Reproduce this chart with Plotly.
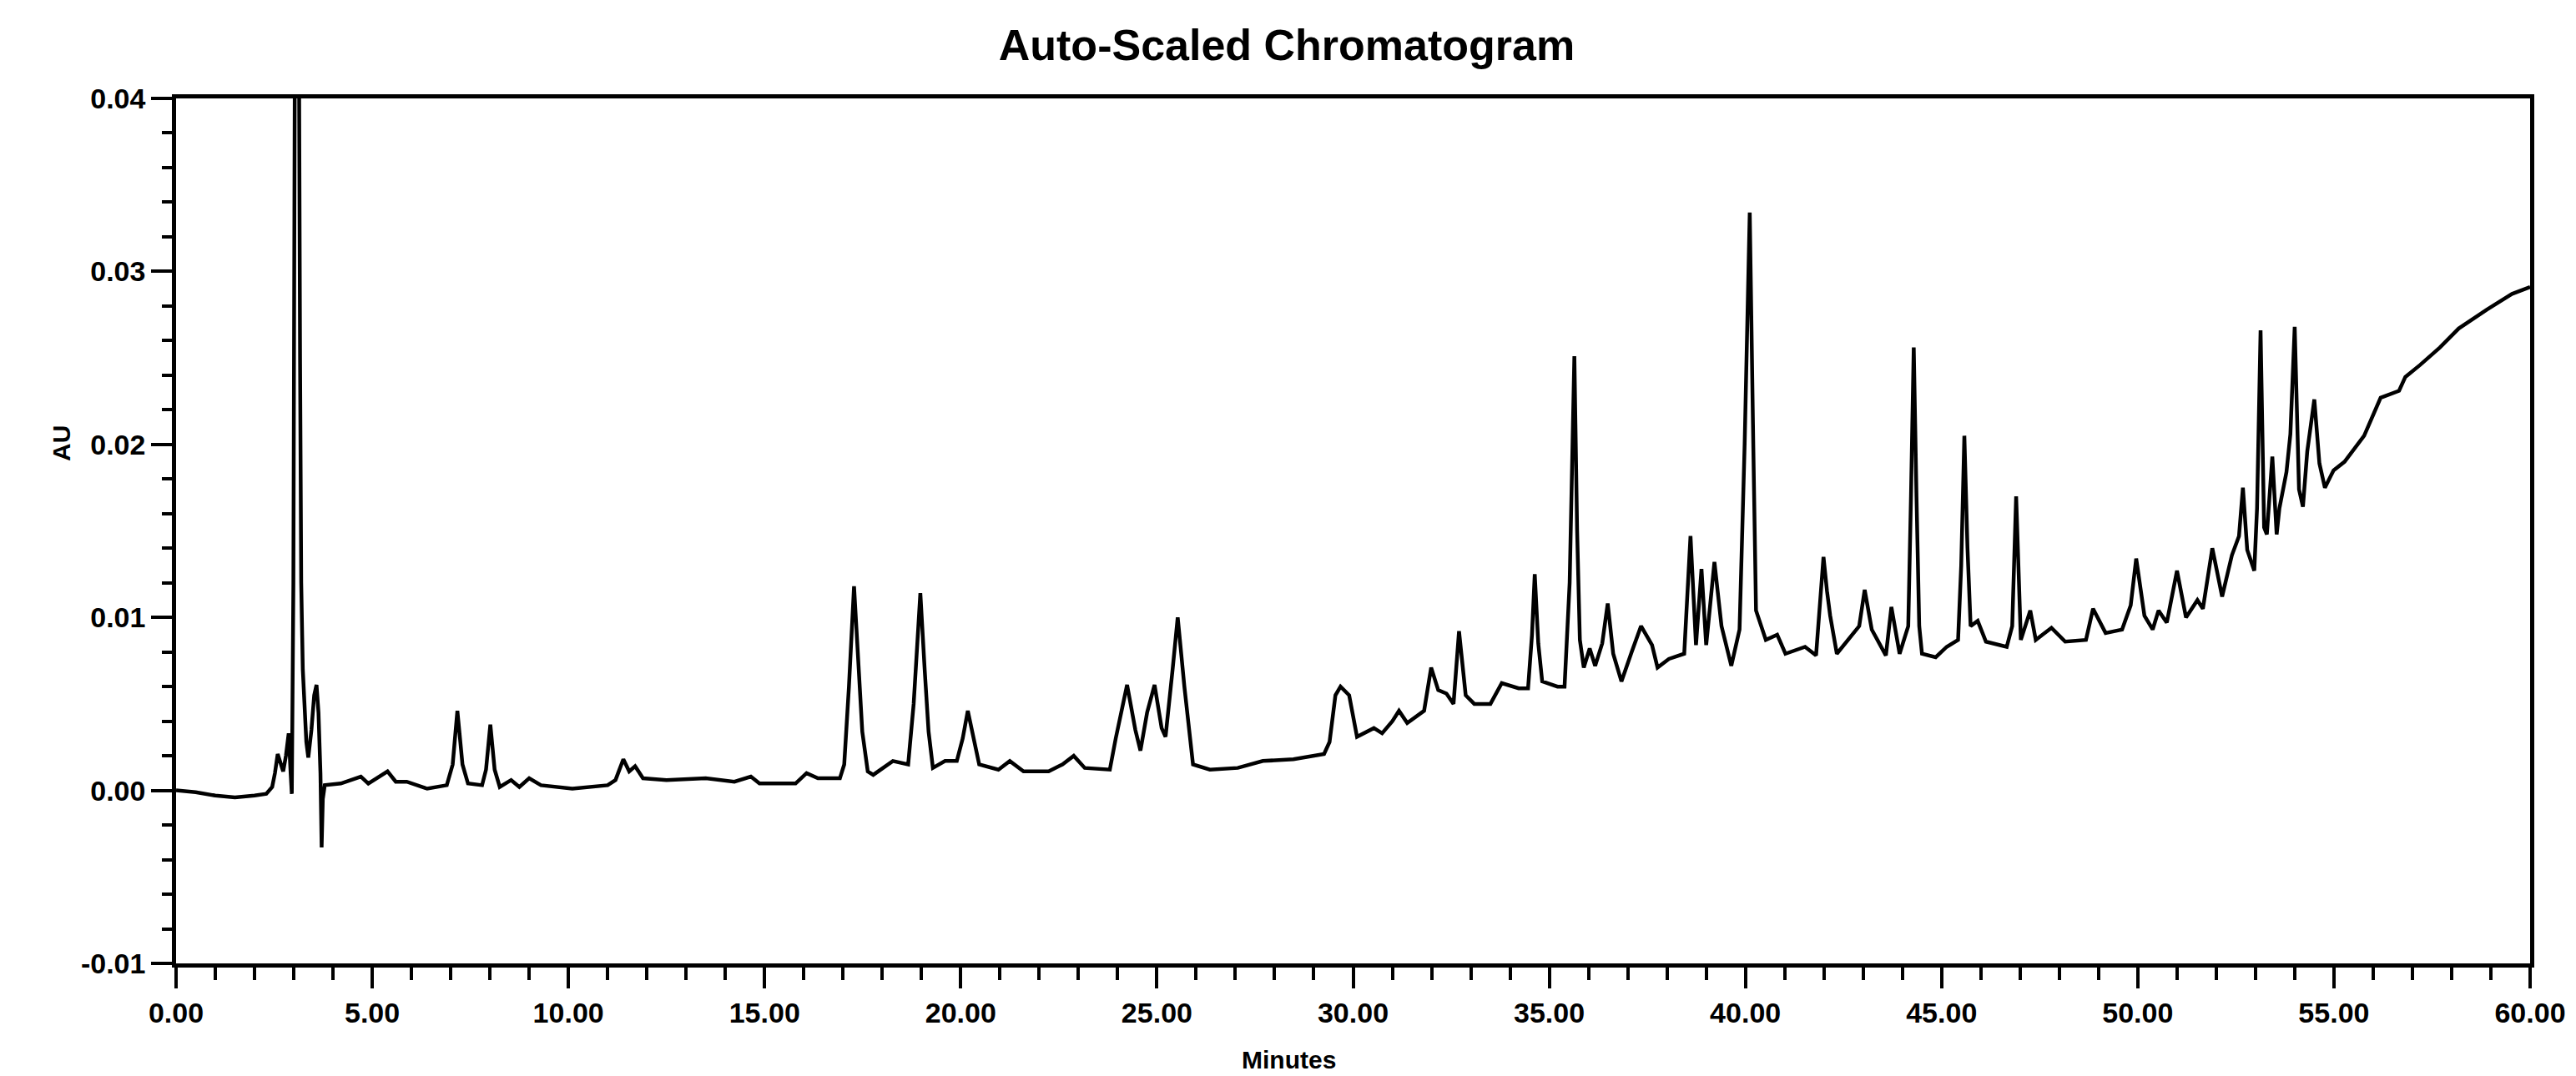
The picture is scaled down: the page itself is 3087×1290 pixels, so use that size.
import plotly.graph_objects as go

# Retention time (minutes) and absorbance (AU)
minutes = [
    0.0, 0.5, 1.0, 1.5, 2.0, 2.3, 2.45, 2.52, 2.59, 2.66, 2.73, 2.80, 2.87, 2.92, 2.95,
    2.99, 3.03, 3.08, 3.13, 3.16, 3.19, 3.23, 3.27, 3.32, 3.37, 3.45, 3.52, 3.58, 3.63,
    3.68, 3.71, 3.74, 3.79, 4.2, 4.71, 4.9, 5.39, 5.6, 5.88, 6.4, 6.9, 7.05, 7.17, 7.30,
    7.44, 7.8, 7.9, 8.01, 8.12, 8.25, 8.54, 8.75, 9.0, 9.3, 10.1, 11.0, 11.2, 11.4, 11.55,
    11.7, 11.9, 12.5, 13.5, 14.23, 14.65, 14.87, 15.79, 16.07, 16.36, 16.92, 17.03, 17.15,
    17.28, 17.40, 17.49, 17.63, 17.77, 18.27, 18.66, 18.80, 18.97, 19.08, 19.18, 19.29,
    19.6, 19.9, 20.05, 20.18, 20.32, 20.47, 20.96, 21.25, 21.6, 22.24, 22.59, 22.88, 23.16,
    23.8, 23.95, 24.24, 24.45, 24.58, 24.75, 24.94, 25.12, 25.22, 25.40, 25.53, 25.70,
    25.92, 26.35, 27.06, 27.7, 28.48, 29.26, 29.4, 29.55, 29.68, 29.9, 30.1, 30.53, 30.74,
    31.0, 31.17, 31.38, 31.81, 31.99, 32.17, 32.38, 32.56, 32.70, 32.87, 33.09, 33.5,
    33.79, 34.22, 34.46, 34.56, 34.63, 34.72, 34.82, 35.21, 35.39, 35.52, 35.64, 35.71,
    35.78, 35.88, 36.03, 36.17, 36.35, 36.49, 36.63, 36.84, 37.1, 37.34, 37.62, 37.76,
    38.05, 38.44, 38.6, 38.74, 38.88, 39.0, 39.21, 39.39, 39.64, 39.85, 39.98, 40.11,
    40.2, 40.27, 40.52, 40.81, 41.02, 41.52, 41.8, 41.92, 41.99, 42.08, 42.16, 42.33,
    42.62, 42.9, 43.04, 43.22, 43.58, 43.72, 43.93, 44.15, 44.22, 44.29, 44.36, 44.43,
    44.5, 44.85, 45.13, 45.42, 45.50, 45.58, 45.66, 45.74, 45.92, 46.13, 46.66, 46.8,
    46.9, 47.02, 47.26, 47.4, 47.8, 48.15, 48.68, 48.86, 49.18, 49.6, 49.82, 49.96, 50.17,
    50.38, 50.53, 50.74, 51.0, 51.23, 51.52, 51.66, 51.9, 52.15, 52.4, 52.58, 52.68,
    52.79, 52.97, 53.04, 53.13, 53.22, 53.29, 53.43, 53.54, 53.61, 53.79, 53.89, 54.0,
    54.11, 54.21, 54.32, 54.5, 54.63, 54.77, 54.99, 55.27, 55.77, 56.19, 56.66, 56.82,
    57.2, 57.7, 58.18, 58.9, 59.54, 60.0,
]
absorbance = [
    0.0000, -0.0001, -0.0003, -0.0004, -0.0003, -0.0002, 0.0002, 0.0010, 0.0021, 0.0016,
    0.0011, 0.0020, 0.0033, 0.0010, -0.0002, 0.0120, 0.0450, 0.0600, 0.0450, 0.0250,
    0.0120, 0.0070, 0.0045, 0.0028, 0.0019, 0.0035, 0.0055, 0.0061, 0.0045, 0.0010,
    -0.0033, -0.0005, 0.0003, 0.0004, 0.0008, 0.0004, 0.0011, 0.0005, 0.0005, 0.0001,
    0.0003, 0.0015, 0.0046, 0.0015, 0.0004, 0.0003, 0.0012, 0.0038, 0.0012, 0.0002,
    0.0006, 0.0002, 0.0007, 0.0003, 0.0001, 0.0003, 0.0006, 0.0018, 0.0011, 0.0014,
    0.0007, 0.0006, 0.0007, 0.0005, 0.0008, 0.0004, 0.0004, 0.0010, 0.0007, 0.0007,
    0.0015, 0.0060, 0.0118, 0.0065, 0.0034, 0.0011, 0.0009, 0.0017, 0.0015, 0.0050,
    0.0114, 0.0070, 0.0034, 0.0013, 0.0017, 0.0017, 0.0030, 0.0046, 0.0030, 0.0015,
    0.0012, 0.0017, 0.0011, 0.0011, 0.0015, 0.0020, 0.0013, 0.0012, 0.0030, 0.0061,
    0.0035, 0.0023, 0.0045, 0.0061, 0.0036, 0.0031, 0.0070, 0.0100, 0.0060, 0.0015,
    0.0012, 0.0013, 0.0017, 0.0018, 0.0021, 0.0028, 0.0055, 0.0060, 0.0055, 0.0031,
    0.0036, 0.0033, 0.0040, 0.0046, 0.0039, 0.0046, 0.0071, 0.0058, 0.0056, 0.0050,
    0.0092, 0.0055, 0.0050, 0.0050, 0.0062, 0.0059, 0.0059, 0.0090, 0.0125, 0.0085,
    0.0063, 0.0060, 0.0060, 0.0120, 0.0251, 0.0150, 0.0087, 0.0071, 0.0082, 0.0072,
    0.0085, 0.0108, 0.0079, 0.0063, 0.0080, 0.0095, 0.0084, 0.0071, 0.0076, 0.0079,
    0.0147, 0.0084, 0.0128, 0.0084, 0.0132, 0.0095, 0.0072, 0.0093, 0.0200, 0.0334,
    0.0200, 0.0104, 0.0087, 0.0090, 0.0079, 0.0083, 0.0078, 0.0110, 0.0135, 0.0115,
    0.0101, 0.0079, 0.0087, 0.0095, 0.0116, 0.0093, 0.0078, 0.0106, 0.0079, 0.0095,
    0.0170, 0.0256, 0.0170, 0.0095, 0.0079, 0.0077, 0.0083, 0.0087, 0.0130, 0.0205,
    0.0140, 0.0095, 0.0098, 0.0086, 0.0083, 0.0095, 0.0170, 0.0087, 0.0104, 0.0087,
    0.0094, 0.0086, 0.0087, 0.0105, 0.0091, 0.0093, 0.0107, 0.0134, 0.0101, 0.0093,
    0.0104, 0.0097, 0.0127, 0.0100, 0.0110, 0.0105, 0.0140, 0.0112, 0.0136, 0.0147,
    0.0175, 0.0139, 0.0127, 0.0163, 0.0266, 0.0152, 0.0148, 0.0193, 0.0148, 0.0163,
    0.0184, 0.0206, 0.0268, 0.0174, 0.0164, 0.0196, 0.0226, 0.0189, 0.0175, 0.0185,
    0.0190, 0.0205, 0.0227, 0.0231, 0.0239, 0.0246, 0.0256, 0.0267, 0.0278, 0.0287,
    0.0291,
]

x_tick_vals = [0, 5, 10, 15, 20, 25, 30, 35, 40, 45, 50, 55, 60]
x_tick_text = ["0.00", "5.00", "10.00", "15.00", "20.00", "25.00", "30.00",
               "35.00", "40.00", "45.00", "50.00", "55.00", "60.00"]
y_tick_vals = [-0.01, 0.00, 0.01, 0.02, 0.03, 0.04]
y_tick_text = ["-0.01", "0.00", "0.01", "0.02", "0.03", "0.04"]

title_text = "Auto-Scaled Chromatogram"
x_title = "Minutes"
y_title = "AU"

FONT = "Liberation Sans, Arial, sans-serif"
W, H = 3087, 1290
L, R, T, B = 211, 55, 118, 135
pw, ph = W - L - R, H - T - B

fig = go.Figure()
fig.add_trace(go.Scatter(
    x=minutes, y=absorbance, mode="lines",
    line=dict(color="black", width=4.5),
    showlegend=False, hoverinfo="skip",
))

axis_common = dict(
    showgrid=False, zeroline=False, showline=True, linecolor="black",
    linewidth=4.5, mirror=True, ticks="outside", tickcolor="black",
    tickwidth=4, ticklen=25,
    tickfont=dict(family=FONT, size=34, color="black", weight="bold"),
)

fig.update_xaxes(
    range=[0, 60], tickmode="array", tickvals=x_tick_vals, ticktext=x_tick_text,
    minor=dict(tick0=0, dtick=1, ticks="outside", ticklen=15, tickwidth=3.5,
               tickcolor="black"),
    **axis_common,
)
fig.update_yaxes(
    range=[-0.01, 0.04], tickmode="array", tickvals=y_tick_vals, ticktext=y_tick_text,
    minor=dict(tick0=0, dtick=0.002, ticks="outside", ticklen=12, tickwidth=3.5,
               tickcolor="black"),
    **axis_common,
)

fig.update_layout(
    width=W, height=H,
    margin=dict(l=L, r=R, t=T, b=B, pad=0),
    paper_bgcolor="white", plot_bgcolor="white",
    title=dict(
        text=title_text, xref="paper", x=(1542 - L) / pw, xanchor="center",
        yref="container", y=1 - 54 / H, yanchor="middle",
        font=dict(family=FONT, size=52, color="black", weight="bold"),
    ),
    annotations=[
        dict(text=y_title, xref="paper", yref="paper",
             x=(73 - L) / pw, y=(H - B - 532) / ph, textangle=-90,
             showarrow=False, xanchor="center", yanchor="middle",
             font=dict(family=FONT, size=30, color="black", weight="bold")),
        dict(text=x_title, xref="paper", yref="paper",
             x=(1544 - L) / pw, y=(H - B - 1270) / ph,
             showarrow=False, xanchor="center", yanchor="middle",
             font=dict(family=FONT, size=30, color="black", weight="bold")),
    ],
)

fig.write_html("out.html")
